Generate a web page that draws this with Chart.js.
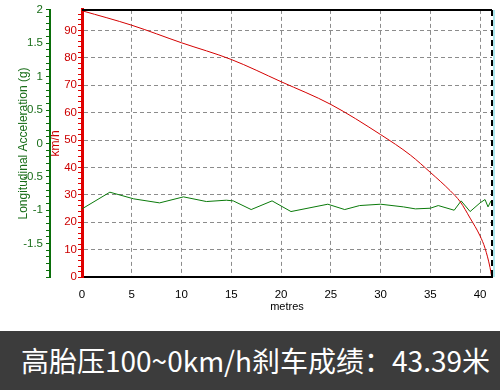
<!DOCTYPE html>
<html lang="zh-CN">
<head>
<meta charset="UTF-8" />
<title>高胎压刹车</title>
<script src="https://cdn.jsdelivr.net/npm/chart.js"></script>
<style>
  body { margin: 0; background: #fff; width: 500px; height: 390px; overflow: hidden; }
  #wrap { width: 500px; height: 331px; position: relative; }
  #banner {
    width: 500px; height: 59px; background: #3c3c3c; color: #fff;
    font-family: "Noto Sans CJK SC", sans-serif; font-size: 28px;
    line-height: 59px; padding-left: 21px; box-sizing: border-box; white-space: nowrap;
  }
</style>
</head>
<body>
<div id="wrap"><canvas id="c" width="500" height="331"></canvas></div>
<div id="banner">高胎压100~0km/h刹车成绩：43.39米</div>
<script>
// speed (km/h) against distance (m)
const speedDist = [0, 5, 10, 15, 20, 25, 30, 33, 35, 37, 38, 39, 40, 40.5, 41, 41.15];
const speedVals = [97.2, 91.9, 85.5, 79.4, 71.3, 63, 52, 44.5, 38.2, 31.5, 27.5, 21.5, 15, 10.5, 3.5, 0.5];

// longitudinal acceleration (g) against distance (m)
const accDist = [0, 2.8, 5.2, 7.8, 10.2, 12.5, 14.5, 15.2, 17, 19.1, 21, 24.7, 26.4, 27.9, 30, 32.3, 33.5, 35, 35.8, 37.4, 38.1, 39, 40, 40.5, 40.8, 41.1];
const accVals = [-0.98, -0.73, -0.83, -0.89, -0.8, -0.87, -0.85, -0.86, -0.99, -0.86, -1.02, -0.91, -0.99, -0.93, -0.91, -0.95, -0.98, -0.97, -0.93, -1.0, -0.86, -1.02, -0.89, -0.84, -0.95, -0.86];

const font = { family: "'Liberation Sans', Arial, sans-serif", size: 11 };
const gridGray = '#8c8c8c';

// frame: black top line, dashed right edge with a cyan line
const frame = {
  id: 'frame',
  afterDraw(chart) {
    const { ctx, chartArea: a } = chart;
    ctx.save();
    ctx.strokeStyle = '#000';
    ctx.lineWidth = 2;
    ctx.beginPath(); ctx.moveTo(a.left, a.top); ctx.lineTo(a.right, a.top); ctx.stroke();
    ctx.strokeStyle = '#aee8ee';
    ctx.beginPath(); ctx.moveTo(a.right + 2, a.top); ctx.lineTo(a.right + 2, a.bottom); ctx.stroke();
    ctx.strokeStyle = '#000';
    ctx.setLineDash([6, 4]);
    ctx.beginPath(); ctx.moveTo(a.right, a.top); ctx.lineTo(a.right, a.bottom); ctx.stroke();
    ctx.restore();
  }
};

new Chart(document.getElementById('c'), {
  type: 'line',
  data: {
    datasets: [
      {
        data: speedDist.map((d, i) => ({ x: d, y: speedVals[i] })),
        yAxisID: 'y',
        borderColor: '#d40000',
        borderWidth: 1,
        pointRadius: 0,
        cubicInterpolationMode: 'monotone'
      },
      {
        data: accDist.map((d, i) => ({ x: d, y: accVals[i] })),
        yAxisID: 'g',
        borderColor: '#0a7a0a',
        borderWidth: 1,
        pointRadius: 0,
        tension: 0
      }
    ]
  },
  options: {
    responsive: false,
    animation: false,
    layout: { padding: { top: 8, right: 8, left: 0, bottom: 0 } },
    plugins: { legend: { display: false }, tooltip: { enabled: false } },
    scales: {
      x: {
        type: 'linear',
        min: 0, max: 41.2,
        afterFit: s => { s.height = 54; },
        ticks: { stepSize: 5, includeBounds: false, color: '#000', font: { ...font, size: 11.5 }, padding: 3, maxRotation: 0 },
        grid: { color: ctx => ctx.tick && ctx.tick.value > 0 ? gridGray : 'transparent', tickColor: 'transparent', tickLength: 8 },
        border: { color: '#000', width: 2, dash: [4, 3] },
        title: { display: true, text: 'metres', color: '#000', font, padding: { top: 0, bottom: 17 } }
      },
      y: {
        position: 'left',
        weight: 1,
        min: 0, max: 97.5,
        afterFit: s => { s.width = 32; },
        ticks: {
          stepSize: 2, includeBounds: false, autoSkip: false, color: '#cc0000', font: { ...font, size: 11.5 }, padding: 1,
          callback: v => (v % 10 === 0 ? String(v) : '')
        },
        grid: {
          color: ctx => ctx.tick && ctx.tick.value > 0 && ctx.tick.value % 10 === 0 ? gridGray : 'transparent',
          tickColor: '#e00000', tickLength: 4, tickWidth: 1, tickBorderDash: []
        },
        border: { color: '#e00000', width: 3, dash: [4, 3] },
        title: { display: true, text: 'km/h', color: '#cc0000', font: { ...font, size: 12, lineHeight: 1 }, padding: { top: 0, bottom: 0 } }
      },
      g: {
        position: 'left',
        weight: 2,
        min: -2, max: 2,
        afterFit: s => { s.width = 50; },
        ticks: {
          stepSize: 0.1, includeBounds: false, autoSkip: false, color: '#1a6e1a', font: { ...font, size: 11.5 }, padding: 3,
          callback: v => {
            const r = Math.round(v * 10) / 10;
            return Math.abs(r * 2 - Math.round(r * 2)) < 1e-6 && r > -1.99 ? String(r) : '';
          }
        },
        grid: { drawOnChartArea: false, tickColor: '#0a6e0a', tickLength: 4, tickWidth: 1, tickBorderDash: [] },
        border: { color: '#0a6e0a', width: 2 },
        title: { display: true, text: 'Longitudinal Acceleration (g)', color: '#1a6e1a', font: { ...font, size: 12, lineHeight: 1 }, padding: { top: 18, bottom: 0 } }
      }
    }
  },
  plugins: [frame]
});
</script>
</body>
</html>
